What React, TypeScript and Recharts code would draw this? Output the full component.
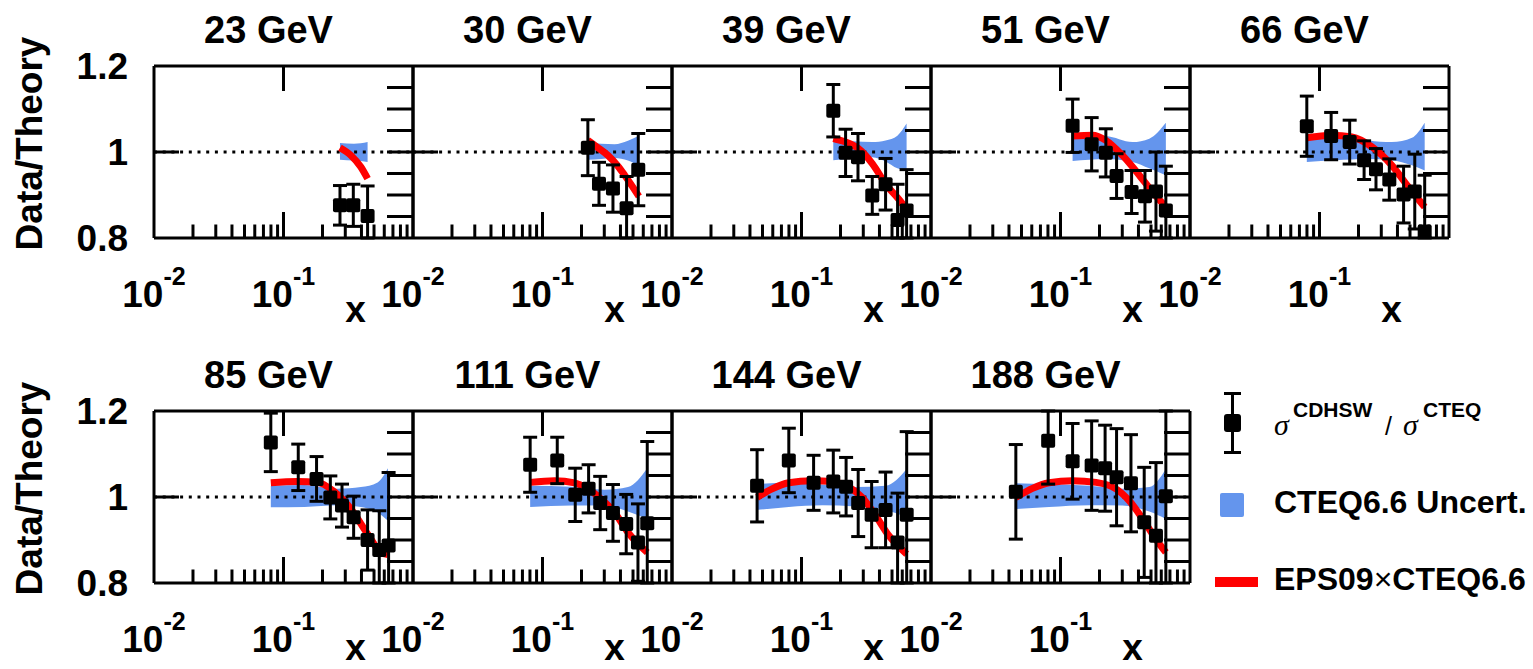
import React from "react";
import { ComposedChart, XAxis, YAxis, Area, Line, Scatter, ErrorBar, ReferenceLine } from "recharts";

// ---------------- data ----------------
const energies = ["23 GeV", "30 GeV", "39 GeV", "51 GeV", "66 GeV", "85 GeV", "111 GeV", "144 GeV", "188 GeV"];

const dataX = [
  [0.273, 0.346, 0.446],
  [0.224, 0.273, 0.35, 0.446, 0.549],
  [0.176, 0.219, 0.273, 0.352, 0.446, 0.552, 0.648],
  [0.124, 0.174, 0.224, 0.271, 0.354, 0.449, 0.546, 0.651],
  [0.0798, 0.123, 0.171, 0.221, 0.273, 0.346, 0.446, 0.544, 0.649],
  [0.0798, 0.13, 0.18, 0.23, 0.283, 0.348, 0.446, 0.549, 0.648],
  [0.0803, 0.13, 0.179, 0.227, 0.279, 0.35, 0.443, 0.546, 0.644],
  [0.0454, 0.0798, 0.124, 0.176, 0.221, 0.274, 0.348, 0.446, 0.552, 0.649],
  [0.0452, 0.0803, 0.124, 0.174, 0.221, 0.271, 0.35, 0.443, 0.546, 0.651],
];
const dataY = [
  [0.876, 0.876, 0.851],
  [1.01, 0.926, 0.915, 0.869, 0.959],
  [1.096, 0.998, 0.988, 0.899, 0.925, 0.842, 0.864],
  [1.061, 1.018, 0.998, 0.944, 0.907, 0.897, 0.908, 0.864],
  [1.06, 1.037, 1.023, 0.981, 0.96, 0.936, 0.901, 0.908, 0.815],
  [1.127, 1.069, 1.042, 0.999, 0.98, 0.953, 0.9, 0.877, 0.887],
  [1.075, 1.085, 1.005, 1.019, 0.986, 0.963, 0.937, 0.894, 0.939],
  [1.026, 1.085, 1.033, 1.036, 1.024, 0.986, 0.959, 0.97, 0.894, 0.959],
  [1.012, 1.131, 1.083, 1.073, 1.067, 1.046, 1.032, 0.941, 0.91, 1.002],
];
const dataErr = [
  [0.046, 0.049, 0.07],
  [0.065, 0.05, 0.055, 0.074, 0.084],
  [0.061, 0.055, 0.055, 0.044, 0.06, 0.083, 0.095],
  [0.062, 0.062, 0.056, 0.052, 0.05, 0.06, 0.092, 0.103],
  [0.07, 0.055, 0.051, 0.045, 0.048, 0.048, 0.066, 0.087, 0.131],
  [0.068, 0.054, 0.052, 0.05, 0.05, 0.049, 0.07, 0.091, 0.17],
  [0.064, 0.054, 0.062, 0.056, 0.062, 0.066, 0.069, 0.09, 0.19],
  [0.084, 0.075, 0.064, 0.073, 0.068, 0.078, 0.077, 0.088, 0.115, 0.193],
  [0.11, 0.101, 0.088, 0.104, 0.1, 0.113, 0.113, 0.128, 0.17, 0.25],
];

const bandX = [
  [0.273, 0.35, 0.446],
  [0.224, 0.284, 0.36, 0.457, 0.549],
  [0.176, 0.25, 0.352, 0.446, 0.55, 0.648],
  [0.124, 0.224, 0.36, 0.485, 0.651],
  [0.0798, 0.132, 0.239, 0.362, 0.518, 0.649],
  [0.0798, 0.145, 0.262, 0.396, 0.533, 0.64],
  [0.0803, 0.167, 0.301, 0.457, 0.644],
  [0.0454, 0.0798, 0.145, 0.262, 0.446, 0.649],
  [0.0452, 0.0816, 0.167, 0.301, 0.485, 0.651],
];
const bandHi = [
  [1.021, 1.019, 1.023],
  [1.025, 1.019, 1.018, 1.026, 1.037],
  [1.029, 1.025, 1.023, 1.027, 1.038, 1.066],
  [1.039, 1.037, 1.023, 1.031, 1.068],
  [1.039, 1.041, 1.027, 1.023, 1.033, 1.068],
  [1.026, 1.028, 1.019, 1.023, 1.034, 1.067],
  [1.026, 1.024, 1.017, 1.023, 1.067],
  [1.03, 1.033, 1.029, 1.023, 1.026, 1.065],
  [1.032, 1.03, 1.026, 1.019, 1.023, 1.065],
];
const bandLo = [
  [0.982, 0.98, 0.977],
  [0.982, 0.984, 0.986, 0.98, 0.968],
  [0.981, 0.985, 0.988, 0.978, 0.962, 0.957],
  [0.979, 0.984, 0.977, 0.962, 0.946],
  [0.977, 0.981, 0.984, 0.981, 0.969, 0.957],
  [0.976, 0.977, 0.981, 0.977, 0.964, 0.945],
  [0.977, 0.98, 0.981, 0.966, 0.949],
  [0.97, 0.977, 0.981, 0.978, 0.97, 0.953],
  [0.972, 0.977, 0.981, 0.98, 0.966, 0.949],
];

const curveX = [
  [0.273, 0.332, 0.396, 0.446],
  [0.224, 0.262, 0.32, 0.38, 0.431, 0.555],
  [0.176, 0.219, 0.275, 0.352, 0.446, 0.6, 0.648],
  [0.124, 0.177, 0.224, 0.301, 0.406, 0.514, 0.651],
  [0.0798, 0.124, 0.178, 0.254, 0.362, 0.488, 0.649],
  [0.0798, 0.128, 0.183, 0.247, 0.332, 0.446, 0.566, 0.64],
  [0.0803, 0.124, 0.177, 0.224, 0.284, 0.36, 0.457, 0.644],
  [0.0454, 0.0593, 0.0798, 0.121, 0.173, 0.232, 0.294, 0.373, 0.473, 0.649],
  [0.0452, 0.0608, 0.0816, 0.124, 0.188, 0.268, 0.34, 0.431, 0.546, 0.651],
];
const curveY = [
  [1.01, 0.992, 0.965, 0.938],
  [1.027, 1.012, 0.992, 0.968, 0.946, 0.897],
  [1.031, 1.023, 1.008, 0.973, 0.926, 0.88, 0.866],
  [1.037, 1.039, 1.027, 0.992, 0.946, 0.907, 0.872],
  [1.033, 1.039, 1.035, 1.012, 0.969, 0.918, 0.872],
  [1.033, 1.036, 1.034, 1.012, 0.972, 0.914, 0.871, 0.866],
  [1.034, 1.038, 1.033, 1.019, 0.995, 0.964, 0.918, 0.871],
  [0.999, 1.019, 1.033, 1.038, 1.036, 1.023, 0.999, 0.957, 0.91, 0.867],
  [0.999, 1.02, 1.033, 1.038, 1.034, 1.019, 0.991, 0.949, 0.902, 0.871],
];

const xTicks = [0.01, 0.02, 0.03, 0.04, 0.05, 0.06, 0.07, 0.08, 0.09, 0.1, 0.2, 0.3, 0.4, 0.5, 0.6, 0.7, 0.8, 0.9, 1];
const xTopTicks = [0.01, 0.1, 1];
const yLeftTicks = [0.8, 1, 1.2];
const yRightTicks = [0.8, 0.85, 0.9, 0.95, 1, 1.05, 1.1, 1.15, 1.2];
const legendLabels = ["CDHSW", "CTEQ", "CTEQ6.6 Uncert.", "EPS09", "CTEQ6.6"];

// ---------------- layout / style ----------------
const FONT = '"Liberation Sans", Arial, Helvetica, sans-serif';
const SERIF = '"Liberation Serif", "DejaVu Serif", serif';
const BLUE = "#6495ED";
const RED = "#FF0000";
const X0 = 153.5;
const PW = 259;
const PH = 172;
const ROW_TOP = [65.5, 410.5];
const Y_MIN = 0.8, Y_MAX = 1.2;
const ML = 150, MR = 30, MT = 40, MB = 100;
const AX = 1; // axis band thickness (px) reserved by each axis
const LW = 3;

const isMajor = (v: number) => Math.abs(Math.log10(v) - Math.round(Math.log10(v))) < 1e-6;

const BottomTick = (p: any) => {
  const v = p.payload.value;
  const x = p.x, y = p.y;
  if (v > 0.999) return <g />;
  const major = isMajor(v);
  const len = major ? 26 : 13.5;
  const exp = Math.round(Math.log10(v));
  return (
    <g>
      {v > 0.0101 && <line x1={x} x2={x} y1={y} y2={y - len} stroke="#000" strokeWidth={LW} />}
      {major && (
        <text x={x} y={y + 69} textAnchor="middle" fontFamily={FONT} fontWeight="bold" fontSize={37} fill="#000">
          10<tspan dy={-22} fontSize={25}>{String(exp)}</tspan>
        </text>
      )}
    </g>
  );
};

const TopTick = (p: any) => {
  const v = p.payload.value;
  if (Math.abs(v - 0.1) > 1e-6) return <g />;
  return <line x1={p.x} x2={p.x} y1={p.y} y2={p.y + 25} stroke="#000" strokeWidth={LW} />;
};

const makeLeftTick = (showLabel: boolean) => (p: any) => {
  const v = p.payload.value;
  return (
    <g>
      {Math.abs(v - 1) < 1e-6 && <line x1={p.x} x2={p.x + 25} y1={p.y} y2={p.y} stroke="#000" strokeWidth={LW} />}
      {showLabel && (
        <text x={p.x - 26} y={p.y + 13} textAnchor="end" fontFamily={FONT} fontWeight="bold" fontSize={37} fill="#000">
          {String(v)}
        </text>
      )}
    </g>
  );
};

const RightTick = (p: any) => {
  const v = p.payload.value;
  if (v < 0.81 || v > 1.19) return <g />;
  return <line x1={p.x} x2={p.x - 26} y1={p.y} y2={p.y} stroke="#000" strokeWidth={LW} />;
};

const Square = (p: any) => (
  <rect x={p.cx - 7} y={p.cy - 7} width={14} height={14} rx={2} fill="#000" />
);

function Panel({ idx }: { idx: number }) {
  const row = idx < 5 ? 0 : 1;
  const col = idx < 5 ? idx : idx - 5;
  const left = X0 + col * PW;
  const top = ROW_TOP[row];
  // error bars are cut at the frame, as in the reference
  const points = dataX[idx].map((x, i) => {
    const y = dataY[idx][i];
    const e = dataErr[idx][i];
    return { x, y, err: [Math.min(e, y - Y_MIN), Math.min(e, Y_MAX - y)] };
  });
  const band = bandX[idx].map((x, i) => ({ x, band: [bandLo[idx][i], bandHi[idx][i]] }));
  const curve = curveX[idx].map((x, i) => ({ x, y: curveY[idx][i] }));
  const axisLine = { stroke: "#000", strokeWidth: LW };
  return (
    <div style={{ position: "absolute", left: left - ML, top: top - MT }}>
      <ComposedChart
        width={PW + ML + MR}
        height={PH + MT + MB}
        margin={{ left: ML - AX, right: MR - AX, top: MT - AX, bottom: MB - AX }}
      >
        <XAxis
          dataKey="x"
          type="number"
          scale="log"
          domain={[0.01, 1]}
          allowDataOverflow
          ticks={xTicks}
          interval={0}
          height={AX}
          tickSize={0}
          tickMargin={0}
          tickLine={false}
          axisLine={axisLine}
          tick={BottomTick}
        />
        <XAxis
          xAxisId="t"
          orientation="top"
          dataKey="x"
          type="number"
          scale="log"
          domain={[0.01, 1]}
          allowDataOverflow
          ticks={xTopTicks}
          interval={0}
          height={AX}
          tickSize={0}
          tickMargin={0}
          tickLine={false}
          axisLine={axisLine}
          tick={TopTick}
        />
        <YAxis
          dataKey="y"
          type="number"
          domain={[Y_MIN, Y_MAX]}
          allowDataOverflow
          ticks={yLeftTicks}
          interval={0}
          width={AX}
          tickSize={0}
          tickMargin={0}
          tickLine={false}
          axisLine={axisLine}
          tick={makeLeftTick(col === 0)}
        />
        <YAxis
          yAxisId="r"
          orientation="right"
          dataKey="y"
          type="number"
          domain={[Y_MIN, Y_MAX]}
          allowDataOverflow
          ticks={yRightTicks}
          interval={0}
          width={AX}
          tickSize={0}
          tickMargin={0}
          tickLine={false}
          axisLine={axisLine}
          tick={RightTick}
        />
        <Area
          data={band}
          dataKey="band"
          type="monotone"
          fill={BLUE}
          fillOpacity={1}
          stroke="none"
          isAnimationActive={false}
          dot={false}
          activeDot={false}
        />
        <ReferenceLine y={1} stroke="#000" strokeWidth={3} strokeDasharray="3 5.7" />
        <Line
          data={curve}
          dataKey="y"
          type="monotone"
          stroke={RED}
          strokeWidth={7}
          dot={false}
          activeDot={false}
          isAnimationActive={false}
        />
        <Scatter data={points} dataKey="y" fill="#000" shape={Square} isAnimationActive={false}>
          <ErrorBar dataKey="err" direction="y" width={7} strokeWidth={LW} stroke="#000" />
        </Scatter>
      </ComposedChart>
    </div>
  );
}

function Overlay() {
  return (
    <svg width={1533} height={669} style={{ position: "absolute", left: 0, top: 0, pointerEvents: "none" }}>
      {energies.map((e, i) => {
        const row = i < 5 ? 0 : 1;
        const col = i < 5 ? i : i - 5;
        return (
          <text
            key={"t" + i}
            x={X0 + col * PW + PW / 2 - 14.5}
            y={ROW_TOP[row] - 22.5}
            textAnchor="middle"
            fontFamily={FONT}
            fontWeight="bold"
            fontSize={38}
            fill="#000"
          >
            {e}
          </text>
        );
      })}
      {energies.map((e, i) => {
        const row = i < 5 ? 0 : 1;
        const col = i < 5 ? i : i - 5;
        return (
          <text
            key={"x" + i}
            x={X0 + col * PW + 202}
            y={ROW_TOP[row] + PH + (row === 0 ? 84 : 77.5)}
            textAnchor="middle"
            fontFamily={FONT}
            fontWeight="bold"
            fontSize={37}
            fill="#000"
          >
            x
          </text>
        );
      })}
      {ROW_TOP.map((t, r) => (
        <text
          key={"yl" + r}
          transform={`translate(42, ${t + PH / 2 - 8}) rotate(-90)`}
          textAnchor="middle"
          fontFamily={FONT}
          fontWeight="bold"
          fontSize={37}
          fill="#000"
        >
          Data/Theory
        </text>
      ))}
      {/* legend */}
      <line x1={1232.5} x2={1232.5} y1={393} y2={453} stroke="#000" strokeWidth={LW} />
      <line x1={1224} x2={1241} y1={393.5} y2={393.5} stroke="#000" strokeWidth={LW} />
      <line x1={1224} x2={1241} y1={452.5} y2={452.5} stroke="#000" strokeWidth={LW} />
      <rect x={1224} y={414} width={17} height={18} rx={3} fill="#000" />
      <text x={1274} y={435} fontFamily={SERIF} fontStyle="italic" fontSize={30} fill="#000">σ</text>
      <text x={1293} y={417} fontFamily={FONT} fontWeight="bold" fontSize={21} fill="#000">{legendLabels[0]}</text>
      <text x={1385} y={435} fontFamily={FONT} fontSize={25} fill="#000">/</text>
      <text x={1403} y={435} fontFamily={SERIF} fontStyle="italic" fontSize={30} fill="#000">σ</text>
      <text x={1423} y={417} fontFamily={FONT} fontWeight="bold" fontSize={21} fill="#000">{legendLabels[1]}</text>
      <rect x={1220} y={493} width={24} height={24} rx={2} fill={BLUE} />
      <text x={1274} y={513} fontFamily={FONT} fontWeight="bold" fontSize={32} fill="#000">{legendLabels[2]}</text>
      <line x1={1215} x2={1258} y1={582} y2={582} stroke={RED} strokeWidth={10} />
      <text x={1274} y={590} fontFamily={FONT} fontWeight="bold" fontSize={32} fill="#000">
        {legendLabels[3]}
        <tspan fontWeight="normal">×</tspan>
        {legendLabels[4]}
      </text>
    </svg>
  );
}

export default function App() {
  return (
    <div style={{ position: "absolute", left: 0, top: 0, width: 1533, height: 669, background: "#fff", overflow: "hidden" }}>
      {energies.map((e, i) => (
        <Panel key={e} idx={i} />
      ))}
      <Overlay />
    </div>
  );
}
